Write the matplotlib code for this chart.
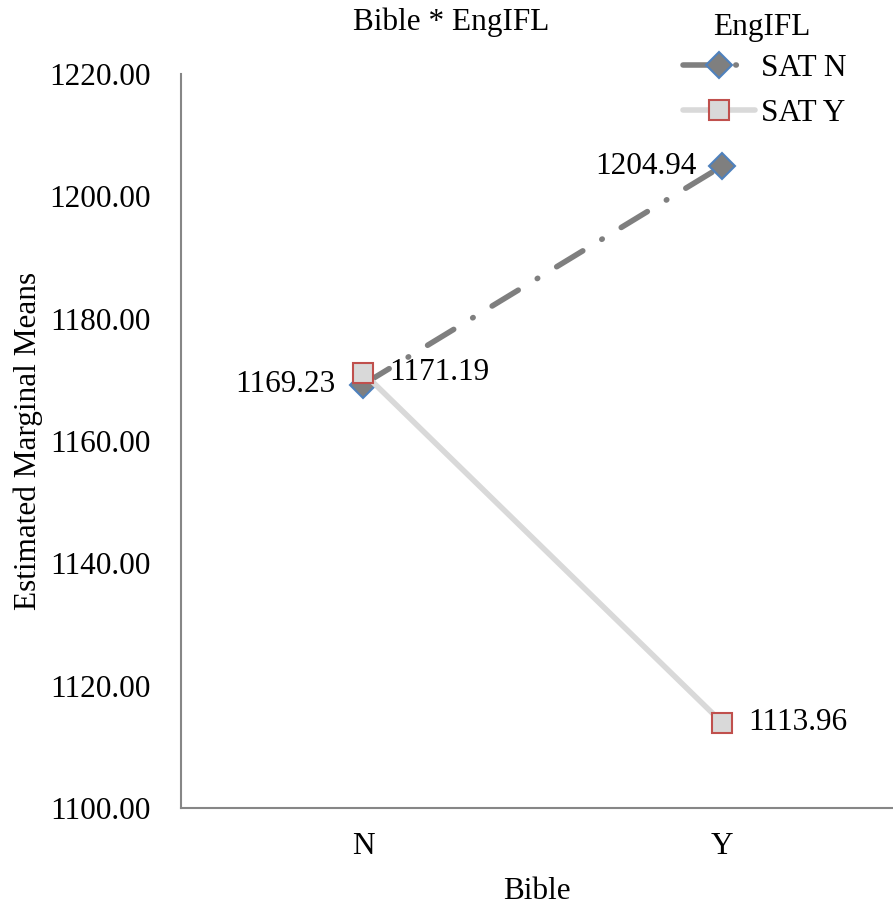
import matplotlib
matplotlib.use('Agg')
from matplotlib import pyplot as plt

plt.rcParams['font.family'] = ['Liberation Serif', 'DejaVu Serif']

categories = ['N', 'Y']
sat_n = [1169.23, 1204.94]
sat_y = [1171.19, 1113.96]
series_names = ['SAT N', 'SAT Y']
yticks = [1100, 1120, 1140, 1160, 1180, 1200, 1220]

fs = 22.5
axis_col = '#868686'

fig = plt.figure(figsize=(8.93, 9.06), dpi=100)
ax = fig.add_axes([181 / 893, 1 - 808 / 906, 1 - 181 / 893, (808 - 74) / 906])

x = list(range(len(categories)))

ax.plot(x, sat_n, color='#7f7f7f', lw=4, linestyle=(0, (5.5, 4, 0.1, 4)),
        dash_capstyle='round', marker='D', ms=13, mfc='#7f7f7f',
        mec='#4f81bd', mew=1.5, label=series_names[0], zorder=3)
ax.plot(x, sat_y, color='#d9d9d9', lw=4, solid_capstyle='round',
        marker='s', ms=15, mfc='#d9d9d9', mec='#c0504d', mew=1.5,
        label=series_names[1], zorder=4)

# value labels
ax.annotate(f'{sat_n[0]:.2f}', (x[0], sat_n[0]), xytext=(-20, 0),
            textcoords='offset points', ha='right', va='center', fontsize=fs)
ax.annotate(f'{sat_n[1]:.2f}', (x[1], sat_n[1]), xytext=(-18, 0),
            textcoords='offset points', ha='right', va='center', fontsize=fs)
ax.annotate(f'{sat_y[0]:.2f}', (x[0], sat_y[0]), xytext=(19, 0),
            textcoords='offset points', ha='left', va='center', fontsize=fs)
ax.annotate(f'{sat_y[1]:.2f}', (x[1], sat_y[1]), xytext=(19, 0),
            textcoords='offset points', ha='left', va='center', fontsize=fs)

ax.set_xlim(-0.507, 1.476)
ax.set_ylim(1100, 1220)
ax.set_xticks(x)
ax.set_xticklabels(categories)
ax.set_yticks(yticks)
ax.set_yticklabels([f'{v:.2f}' for v in yticks])
ax.tick_params(axis='y', length=0, pad=22, labelsize=fs)
ax.tick_params(axis='x', length=0, pad=17, labelsize=fs)

for side in ['top', 'right']:
    ax.spines[side].set_visible(False)
for side in ['left', 'bottom']:
    ax.spines[side].set_color(axis_col)
    ax.spines[side].set_linewidth(1.5)

ax.set_xlabel('Bible', fontsize=fs, labelpad=12)
ax.set_ylabel('Estimated Marginal Means', fontsize=fs)
ax.yaxis.set_label_coords((43 - 181) / 712, 0.5)

fig.text(451 / 893, 1 - 22 / 906, 'Bible * EngIFL', ha='center', va='center',
         fontsize=fs)
fig.text(762 / 893, 1 - 27 / 906, 'EngIFL', ha='center', va='center',
         fontsize=fs)

leg = fig.legend(loc='center left', bbox_to_anchor=(683 / 893, 1 - 91 / 906),
                 frameon=False, fontsize=fs, numpoints=1, handlelength=2.3,
                 handletextpad=0.2, borderpad=0, borderaxespad=0,
                 labelspacing=0.52)

fig.savefig('out.png', dpi=100)
